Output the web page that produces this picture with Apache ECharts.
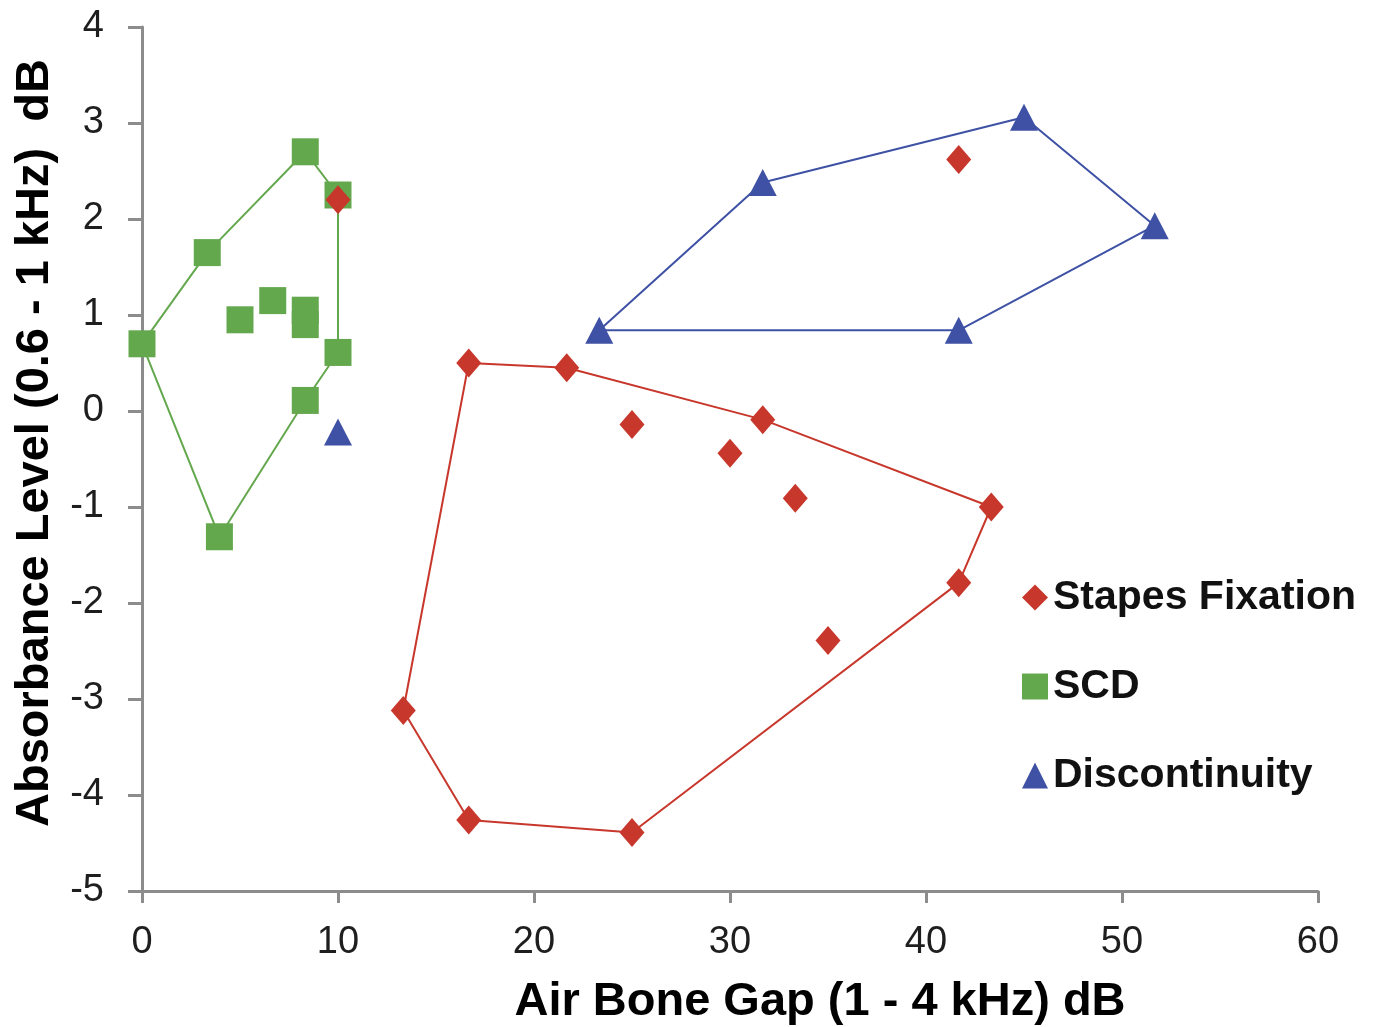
<!DOCTYPE html>
<html>
<head>
<meta charset="utf-8">
<script src="https://cdn.jsdelivr.net/npm/echarts@6/dist/echarts.min.js"></script>
<style>
html,body{margin:0;padding:0;background:#fff;}
#chart{width:1380px;height:1027px;}
</style>
</head>
<body>
<div id="chart"></div>
<script>
// ---- data ----
var seriesNames = ['Stapes Fixation', 'SCD', 'Discontinuity'];

var stapesX = [10, 41.67, 16.67, 21.67, 25, 31.67, 30, 33.33, 43.33, 41.67, 35, 13.33, 16.67, 25];
var stapesY = [2.2, 2.62, 0.5, 0.45, -0.14, -0.09, -0.44, -0.91, -1.0, -1.79, -2.39, -3.12, -4.26, -4.39];
var stapesHull = [2, 3, 5, 8, 9, 13, 12, 11, 2];

var scdX = [0, 3.33, 8.33, 10, 5, 6.67, 8.33, 8.33, 10, 8.33, 3.95];
var scdY = [0.7, 1.65, 2.7, 2.25, 0.95, 1.15, 1.05, 0.9, 0.61, 0.11, -1.31];
var scdHull = [0, 1, 2, 3, 8, 9, 10, 0];

var discX = [23.33, 31.67, 45, 51.67, 41.67, 10];
var discY = [0.84, 2.38, 3.06, 1.93, 0.84, -0.22];
var discHull = [0, 1, 2, 3, 4, 0];

var xTicks = { min: 0, max: 60, step: 10 };
var yTicks = { min: -5, max: 4, step: 1 };

// ---- build ----
function pts(xs, ys) { return xs.map(function (x, i) { return [x, ys[i]]; }); }
function hull(xs, ys, idx) { return idx.map(function (i) { return [xs[i], ys[i]]; }); }

var FONT = '"Liberation Sans", Arial, sans-serif';
var RED = '#c8372c', GREEN = '#64a84e', BLUE = '#3e51a4';
var AXIS = '#8c8c8c';

var chart = echarts.init(document.getElementById('chart'), null, { renderer: 'canvas' });

var option = {
  backgroundColor: '#ffffff',
  animation: false,
  textStyle: { fontFamily: FONT },
  grid: { left: 142, right: 62, top: 27, bottom: 136, containLabel: false, outerBoundsMode: 'none' },
  xAxis: {
    type: 'value', min: xTicks.min, max: xTicks.max, interval: xTicks.step,
    name: 'Air Bone Gap (1 - 4 kHz) dB', nameLocation: 'middle', nameGap: 88,
    nameTextStyle: { fontFamily: FONT, fontSize: 47, fontWeight: 'bold', color: '#000', padding: [0, 0, 0, 180] },
    axisLine: { show: true, onZero: false, lineStyle: { color: AXIS, width: 3 } },
    axisTick: { show: true, inside: false, length: 12, lineStyle: { color: AXIS, width: 3 } },
    axisLabel: { fontFamily: FONT, fontSize: 38, color: '#1e1e1e', margin: 33 },
    splitLine: { show: false }
  },
  yAxis: {
    type: 'value', min: yTicks.min, max: yTicks.max, interval: yTicks.step,
    name: 'Absorbance Level (0.6 - 1 kHz)  dB', nameLocation: 'middle', nameGap: 83,
    nameTextStyle: { fontFamily: FONT, fontSize: 47, fontWeight: 'bold', color: '#000', padding: [0, 0, 0, 32] },
    axisLine: { show: true, onZero: false, lineStyle: { color: AXIS, width: 3 } },
    axisTick: { show: true, inside: false, length: 14, lineStyle: { color: AXIS, width: 3 } },
    axisLabel: { fontFamily: FONT, fontSize: 38, color: '#1e1e1e', margin: 38 },
    splitLine: { show: false }
  },
  legend: {
    orient: 'vertical', left: 1017, top: 572,
    itemWidth: 26, itemHeight: 26, itemGap: 48,
    data: [
      { name: seriesNames[0], icon: 'diamond' },
      { name: seriesNames[1], icon: 'rect' },
      { name: seriesNames[2], icon: 'triangle' }
    ],
    textStyle: { fontFamily: FONT, fontSize: 41, fontWeight: 'bold', color: '#111', lineHeight: 40 }
  },
  series: [
    { name: 'scdHull', type: 'line', data: hull(scdX, scdY, scdHull), showSymbol: false, silent: true,
      lineStyle: { color: GREEN, width: 2 }, itemStyle: { color: GREEN }, z: 1 },
    { name: 'stapesHull', type: 'line', data: hull(stapesX, stapesY, stapesHull), showSymbol: false, silent: true,
      lineStyle: { color: RED, width: 2 }, itemStyle: { color: RED }, z: 1 },
    { name: 'discHull', type: 'line', data: hull(discX, discY, discHull), showSymbol: false, silent: true,
      lineStyle: { color: BLUE, width: 2 }, itemStyle: { color: BLUE }, z: 1 },
    { name: seriesNames[1], type: 'scatter', data: pts(scdX, scdY), symbol: 'rect', symbolSize: 27,
      itemStyle: { color: GREEN, opacity: 1 }, z: 2 },
    { name: seriesNames[0], type: 'scatter', data: pts(stapesX, stapesY), symbol: 'diamond', symbolSize: [25, 29],
      itemStyle: { color: RED, opacity: 1 }, z: 3 },
    { name: seriesNames[2], type: 'scatter', data: pts(discX, discY), symbol: 'triangle', symbolSize: [28, 27],
      itemStyle: { color: BLUE, opacity: 1 }, z: 3 }
  ]
};
chart.setOption(option);
</script>
</body>
</html>
